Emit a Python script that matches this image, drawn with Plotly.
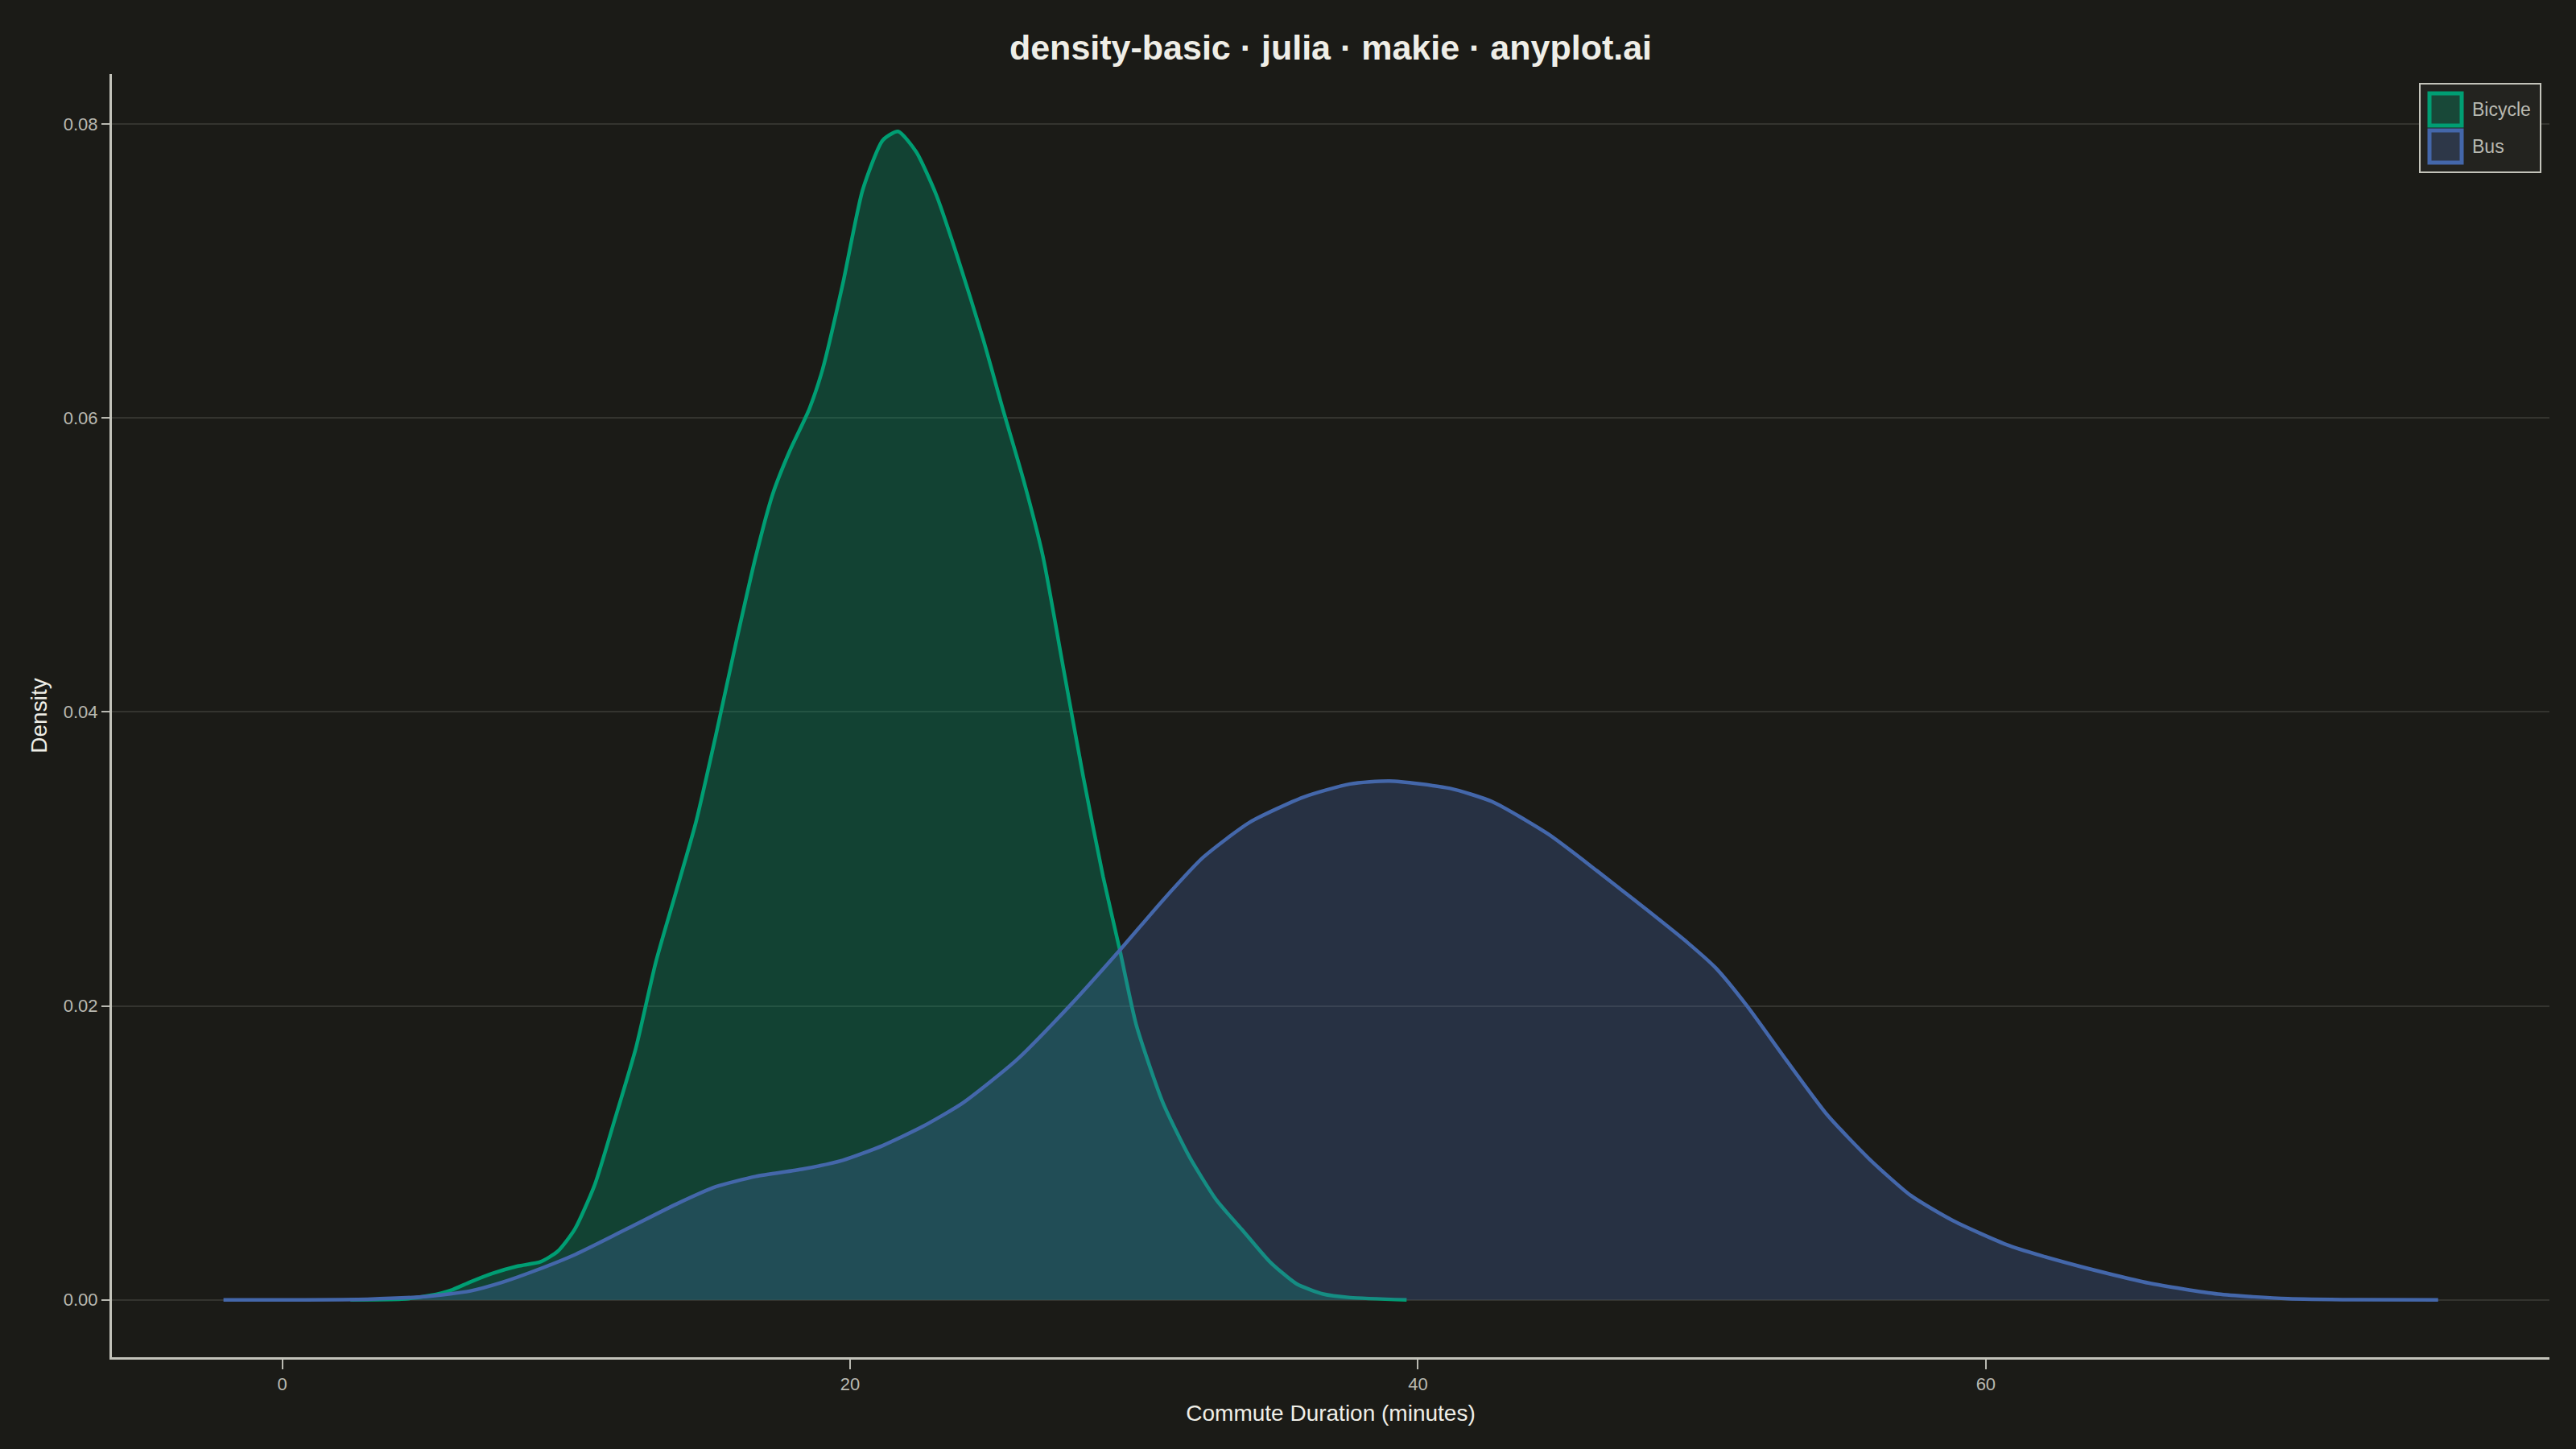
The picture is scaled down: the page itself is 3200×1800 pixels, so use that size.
import plotly.graph_objects as go

# colours
BG = "#1B1B17"
INK = "#EFEEE7"
INK_SOFT = "#B9B9B1"
GRID = "#34342F"
SPINE = "#C3C3BA"
GREEN = "#009E73"
BLUE = "#4467AA"
GREEN_FILL = "rgba(0,158,115,0.30)"
BLUE_FILL = "rgba(68,103,170,0.30)"

TITLE = "density-basic · julia · makie · anyplot.ai"

# kernel density curves
bicycle_x = [2.4, 4.2, 5.2, 6.0, 6.6, 7.4, 8.3, 9.1, 9.7, 10.3, 11.0, 11.7, 12.45,
             13.16, 13.86, 14.57, 15.27, 15.98, 16.68, 17.27, 17.86, 18.56, 19.03,
             19.74, 20.44, 21.15, 21.69, 22.33, 23.03, 23.74, 24.68, 25.38, 26.09,
             26.79, 27.5, 28.2, 28.91, 29.5, 30.08, 31.02, 31.96, 32.9, 33.84,
             34.78, 35.72, 36.66, 37.61, 39.6]
bicycle_y = [0.0, 0.00005, 0.0003, 0.0007, 0.0012, 0.0018, 0.0023, 0.0026, 0.0033,
             0.0048, 0.0078, 0.0122, 0.0171, 0.0230, 0.0277, 0.0325, 0.0384, 0.0447,
             0.0506, 0.0548, 0.0577, 0.0606, 0.0633, 0.0691, 0.0755, 0.0789, 0.0795,
             0.0781, 0.0752, 0.0712, 0.0654, 0.0606, 0.0559, 0.0506, 0.0431, 0.0357,
             0.0288, 0.0238, 0.0187, 0.0134, 0.0097, 0.0068, 0.0047, 0.0026, 0.0011,
             0.0004, 0.00016, 0.0]

bus_x = [-2.07, 0.0, 3.0, 5.1, 6.6, 7.75, 8.92, 10.33, 12.21, 13.86, 15.27, 16.68,
         18.33, 19.74, 21.15, 22.56, 23.97, 25.85, 27.73, 29.5, 31.02, 32.43, 34.08,
         35.96, 37.61, 39.0, 41.13, 42.61, 44.58, 46.3, 48.02, 49.5, 50.48, 51.59,
         52.94, 54.41, 55.89, 57.36, 58.84, 60.81, 63.27, 65.73, 68.18, 70.64, 73.0,
         75.93]
bus_y = [0.0, 0.000005, 0.00005, 0.00024, 0.0006, 0.0012, 0.0020, 0.0031, 0.0049,
         0.0065, 0.0077, 0.0084, 0.0089, 0.0095, 0.0105, 0.0118, 0.0134, 0.0163,
         0.0200, 0.0238, 0.0272, 0.0301, 0.0325, 0.0342, 0.0351, 0.0353, 0.0348,
         0.0339, 0.0317, 0.0292, 0.0266, 0.0243, 0.0226, 0.0200, 0.0164, 0.0126,
         0.0096, 0.0071, 0.0054, 0.0037, 0.0023, 0.00115, 0.0004, 0.00008, 0.00001,
         0.0]

x_ticks = [0, 20, 40, 60]
y_ticks = [0.00, 0.02, 0.04, 0.06, 0.08]

series = [
    ("Bicycle", bicycle_x, bicycle_y, GREEN, GREEN_FILL),
    ("Bus", bus_x, bus_y, BLUE, BLUE_FILL),
]

W, H = 3200, 1800
fig = go.Figure()

for name, xs, ys, col, fillcol in series:
    fig.add_trace(go.Scatter(
        x=xs, y=ys, name=name, mode="lines",
        line=dict(color=col, width=4.5, shape="spline", smoothing=0.6),
        fill="tozeroy", fillcolor=fillcol, showlegend=False,
    ))

# makie-style legend box (square patches), placed in pixel terms of the page
shapes = [dict(type="rect", xref="paper", yref="paper",
               x0=(3006 - 139) / 3028, x1=(3156 - 139) / 3028,
               y0=1 - (214 - 92) / 1594, y1=1 - (104 - 92) / 1594,
               fillcolor="#23231F", line=dict(color=SPINE, width=2), layer="above")]
annotations = []
for i, (name, xs, ys, col, fillcol) in enumerate(series):
    top = 116 + i * 46
    shapes.append(dict(type="rect", xref="paper", yref="paper",
                       x0=(3018 - 139) / 3028, x1=(3058 - 139) / 3028,
                       y0=1 - (top + 40 - 92) / 1594, y1=1 - (top - 92) / 1594,
                       fillcolor=fillcol, line=dict(color=col, width=5), layer="above"))
    annotations.append(dict(text=name, xref="paper", yref="paper", showarrow=False,
                            x=(3069 - 139) / 3028, y=1 - (top + 20 - 92) / 1594,
                            xanchor="left", yanchor="middle",
                            font=dict(size=23, color=INK_SOFT)))

fig.update_layout(
    width=W, height=H,
    paper_bgcolor=BG, plot_bgcolor=BG,
    font=dict(family="Liberation Sans, Arial, sans-serif", color=INK_SOFT, size=22),
    margin=dict(l=139, r=33, t=92, b=114),
    title=dict(text=f"<b>{TITLE}</b>", x=(139 + 3167) / 2 / W, xanchor="center",
               y=1 - 59 / H, yanchor="middle",
               font=dict(size=43, color=INK)),
    showlegend=False,
    shapes=shapes,
    annotations=annotations,
)

fig.update_xaxes(
    range=[-6.0, 79.85], tickvals=x_ticks, showgrid=False, zeroline=False,
    showline=True, linecolor=SPINE, linewidth=3, mirror=False,
    ticks="outside", ticklen=12, tickwidth=2, tickcolor=INK_SOFT,
    tickfont=dict(size=22, color=INK_SOFT),
    title=dict(text="Commute Duration (minutes)", font=dict(size=28, color=INK), standoff=14),
)
fig.update_yaxes(
    range=[-0.0039, 0.0834], tickvals=y_ticks, tickformat=".2f",
    showgrid=True, gridcolor=GRID, gridwidth=2, zeroline=False,
    showline=True, linecolor=SPINE, linewidth=3, mirror=False,
    ticks="outside", ticklen=10, tickwidth=2, tickcolor=INK_SOFT,
    tickfont=dict(size=22, color=INK_SOFT),
    title=dict(text="Density", font=dict(size=28, color=INK), standoff=12),
)

fig.write_html("out.html", config={"displayModeBar": False},
               post_script="document.body.style.margin='0';"
                           "document.body.style.background='#1B1B17';")
